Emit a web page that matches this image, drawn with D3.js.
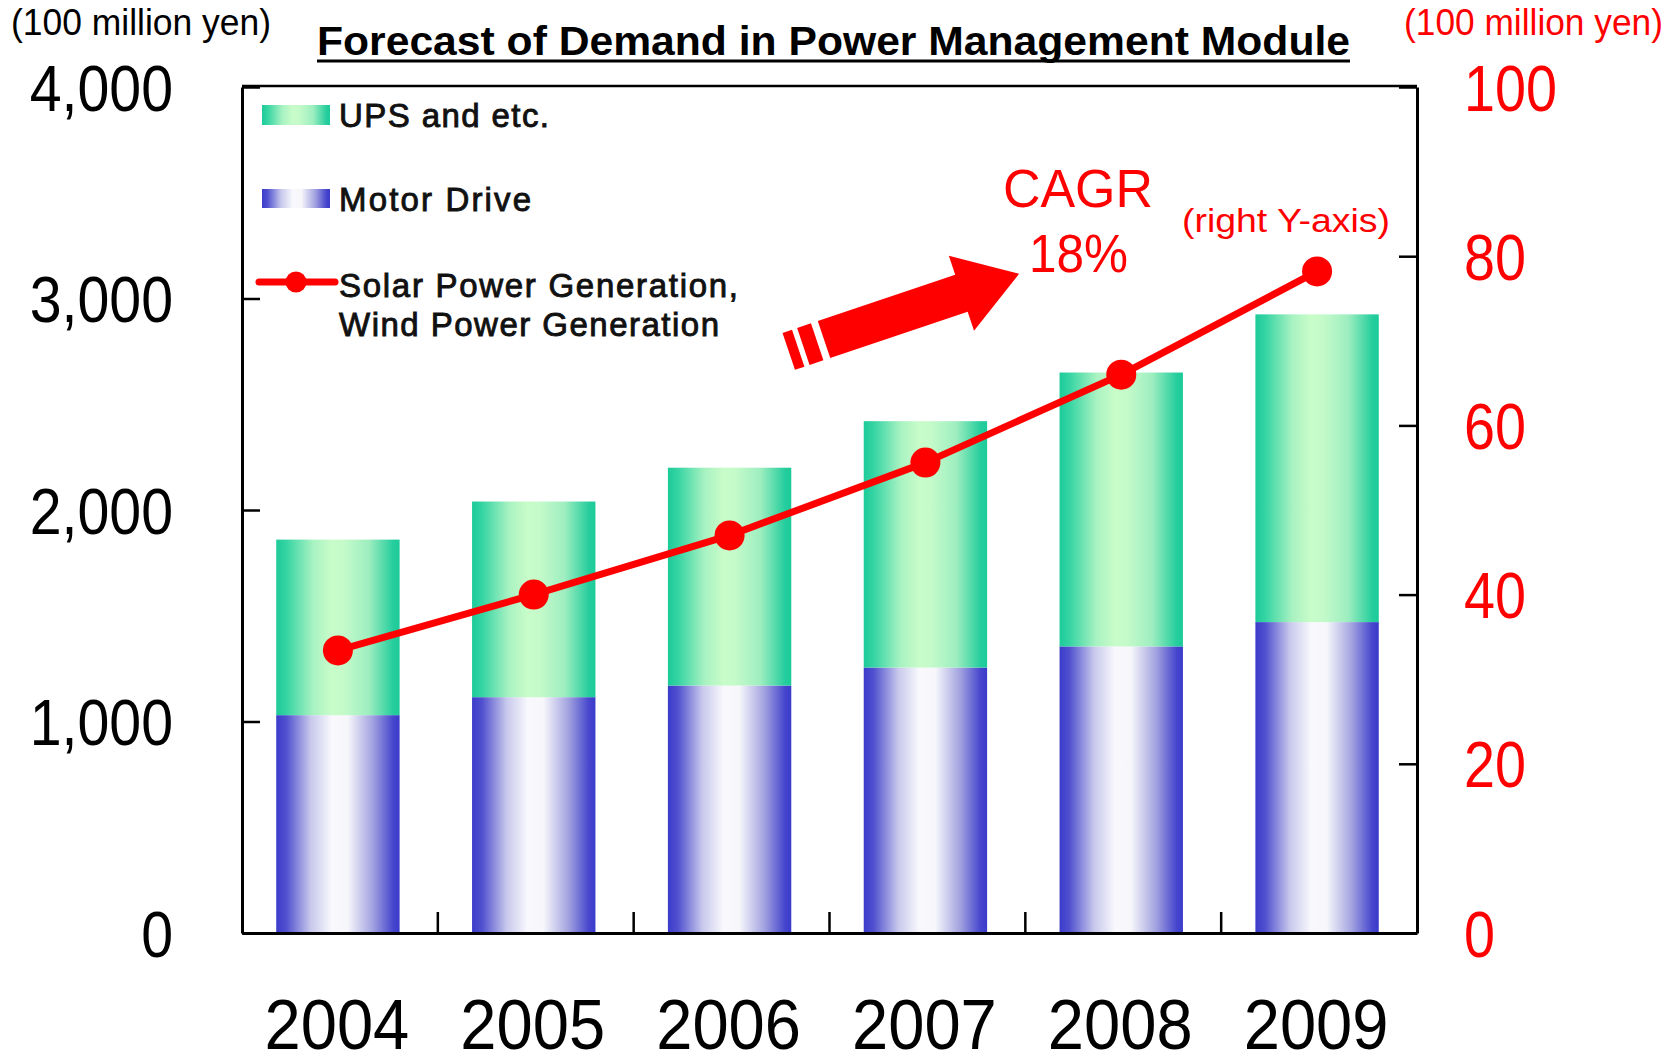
<!DOCTYPE html>
<html><head><meta charset="utf-8">
<script src="https://cdn.jsdelivr.net/npm/d3@7"></script>
<style>
body{margin:0;background:#fff}
svg{display:block}
text{font-family:"Liberation Sans",Arial,sans-serif}
</style>
</head><body>
<svg id="c" width="1677" height="1056"></svg>
<script>
// ---- data ----
const years = ["2004","2005","2006","2007","2008","2009"];
const motorDrive = [1030,1115,1170,1255,1355,1470];
const upsEtc = [830,925,1030,1165,1295,1455];
const solarWind = [33.4,40.0,47.0,55.6,66.0,78.2];
const leftTicks = [0,1000,2000,3000,4000];
const rightTicks = [0,20,40,60,80,100];
const seriesNames = ["UPS and etc.","Motor Drive","Solar Power Generation,","Wind Power Generation"];
const titleText = "Forecast of Demand in Power Management Module";
const unitText = "(100 million yen)";

// ---- layout ----
const L = 242, R = 1417, T = 87, B = 933;
const svg = d3.select("#c");
const x = d3.scaleBand().domain(years).range([L, R]).padding(0);
const yL = d3.scaleLinear().domain([0,4000]).range([B, T]);
const yR = d3.scaleLinear().domain([0,100]).range([B, T]);
const barW = x.bandwidth()*0.63;
const barOff = (x.bandwidth()-barW)/2 - 2;

// gradients
const defs = svg.append("defs");
function grad(id, stops){
  const g = defs.append("linearGradient").attr("id",id).attr("x1",0).attr("x2",1).attr("y1",0).attr("y2",0);
  stops.forEach(s=>g.append("stop").attr("offset",s[0]).attr("stop-color",s[1]));
}
grad("gUps",[[0,"#1ccb99"],[0.08,"#35d4a3"],[0.3,"#a9f2c2"],[0.45,"#c8fcc9"],[0.55,"#c4faca"],[0.75,"#9eeec0"],[0.95,"#25cd9d"],[1,"#1ccb99"]]);
grad("gMot",[[0,"#3b3bcb"],[0.08,"#5050cf"],[0.28,"#c8c8ec"],[0.45,"#f8f8fd"],[0.58,"#f6f6fb"],[0.78,"#a3a3e0"],[0.95,"#4545cd"],[1,"#3b3bcb"]]);

// bars
const stacked = years.map((y,i)=>({year:y, m:motorDrive[i], u:upsEtc[i]}));
svg.append("g").selectAll("rect.mot").data(stacked).join("rect")
  .attr("x",d=>x(d.year)+barOff).attr("width",barW)
  .attr("y",d=>yL(d.m)).attr("height",d=>yL(0)-yL(d.m))
  .attr("fill","url(#gMot)");
svg.append("g").selectAll("rect.ups").data(stacked).join("rect")
  .attr("x",d=>x(d.year)+barOff).attr("width",barW)
  .attr("y",d=>yL(d.m+d.u)).attr("height",d=>yL(d.m)-yL(d.m+d.u))
  .attr("fill","url(#gUps)");

// axes
const axL = svg.append("g").attr("transform",`translate(${L},0)`)
  .call(d3.axisLeft(yL).tickValues(leftTicks).tickFormat(d3.format(",")).tickSize(-18).tickSizeOuter(0));
axL.selectAll("text").attr("x",0).attr("dy",0)
  .attr("transform","translate(-69,23) scale(0.895,1)")
  .attr("font-size",64).attr("fill","#000").attr("text-anchor","end");

const axR = svg.append("g").attr("transform",`translate(${R},0)`)
  .call(d3.axisRight(yR).tickValues(rightTicks).tickSize(-18).tickSizeOuter(0));
axR.selectAll("text").attr("x",0).attr("dy",0)
  .attr("transform","translate(47,23) scale(0.87,1)")
  .attr("font-size",64).attr("fill","#ff0000").attr("text-anchor","start");

const axB = svg.append("g").attr("transform",`translate(0,${B})`)
  .call(d3.axisBottom(x).tickSize(0).tickSizeOuter(0));
axB.selectAll("text").attr("y",0).attr("dy",0)
  .attr("transform","translate(-3,116) scale(0.93,1)")
  .attr("font-size",70).attr("fill","#000").attr("text-anchor","middle");
// band boundary ticks (inward)
svg.append("g").selectAll("line").data(years.slice(1)).join("line")
  .attr("x1",d=>x(d)).attr("x2",d=>x(d)).attr("y1",B).attr("y2",B-21)
  .attr("stroke","#000").attr("stroke-width",2.5);
// top border
svg.append("line").attr("x1",L).attr("x2",R).attr("y1",yL(4000)-1).attr("y2",yL(4000)-1)
  .attr("stroke","#000").attr("stroke-width",2.5);
svg.selectAll(".domain").attr("stroke","#000").attr("stroke-width",3);
svg.selectAll(".tick line").attr("stroke","#000").attr("stroke-width",2.5);

// line series
const cx = d=>x(d)+x.bandwidth()/2-2;
const pts = years.map((y,i)=>[cx(y), yR(solarWind[i])]);
svg.append("path").attr("d",d3.line()(pts)).attr("fill","none")
  .attr("stroke","#ff0000").attr("stroke-width",7).attr("stroke-linejoin","round");
svg.append("g").selectAll("circle").data(pts).join("circle")
  .attr("cx",d=>d[0]).attr("cy",d=>d[1]).attr("r",15).attr("fill","#ff0000");

// title
svg.append("text").attr("x",317).attr("y",55).attr("font-size",41).attr("font-weight","bold")
  .attr("textLength",1033).attr("lengthAdjust","spacingAndGlyphs").text(titleText);
svg.append("line").attr("x1",317).attr("x2",1350).attr("y1",61).attr("y2",61)
  .attr("stroke","#000").attr("stroke-width",3);

// unit labels
svg.append("text").attr("x",11).attr("y",35).attr("font-size",36)
  .attr("textLength",260).attr("lengthAdjust","spacingAndGlyphs").text(unitText);
svg.append("text").attr("x",1404).attr("y",35).attr("font-size",36).attr("fill","#ff0000")
  .attr("textLength",259).attr("lengthAdjust","spacingAndGlyphs").text(unitText);

// legend
const lg = svg.append("g");
lg.append("rect").attr("x",262).attr("y",105).attr("width",68).attr("height",20).attr("fill","url(#gUps)");
lg.append("rect").attr("x",262).attr("y",189).attr("width",68).attr("height",19).attr("fill","url(#gMot)");
lg.append("line").attr("x1",259).attr("x2",335).attr("y1",282).attr("y2",282)
  .attr("stroke","#ff0000").attr("stroke-width",7).attr("stroke-linecap","round");
lg.append("circle").attr("cx",296).attr("cy",282).attr("r",10.5).attr("fill","#ff0000");
const legTexts = [[seriesNames[0],127,210],[seriesNames[1],211,192],[seriesNames[2],297,399],[seriesNames[3],336,380]];
legTexts.forEach(([t,yy,w])=>{
  lg.append("text").attr("x",339).attr("y",yy).attr("font-size",33)
    .attr("fill","#111").attr("stroke","#111").attr("stroke-width",0.9)
    .attr("textLength",w).attr("lengthAdjust","spacing").text(t);
});

// CAGR annotation
svg.append("text").attr("x",1003).attr("y",207).attr("font-size",54).attr("fill","#ff0000")
  .attr("textLength",150).attr("lengthAdjust","spacingAndGlyphs").text("CAGR");
svg.append("text").attr("x",1029).attr("y",272).attr("font-size",54).attr("fill","#ff0000")
  .attr("textLength",99).attr("lengthAdjust","spacingAndGlyphs").text("18%");
svg.append("text").attr("x",1182).attr("y",232).attr("font-size",33).attr("fill","#ff0000")
  .attr("textLength",208).attr("lengthAdjust","spacingAndGlyphs").text("(right Y-axis)");

// arrow (local coords along its axis)
const ar = svg.append("g").attr("transform","translate(824,339.5) rotate(-18.6)").attr("fill","#ff0000");
ar.append("path").attr("d","M0,-19.5 L145,-19.5 L145,-39.5 L205.8,0 L145,39.5 L145,19.5 L0,19.5 Z");
ar.append("rect").attr("x",-21.8).attr("y",-19.5).attr("width",14.6).attr("height",39);
ar.append("rect").attr("x",-37.2).attr("y",-19.5).attr("width",10).attr("height",39);
</script>
</body></html>
